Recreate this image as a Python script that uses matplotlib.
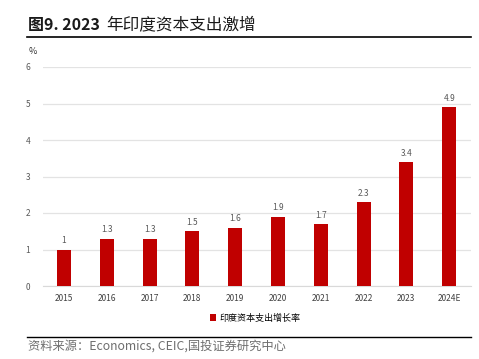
import numpy as np
import matplotlib
matplotlib.use("Agg")
import matplotlib.pyplot as plt
from matplotlib.lines import Line2D

plt.rcParams['font.family'] = ['Noto Sans CJK SC', 'DejaVu Sans']

years = ['2015', '2016', '2017', '2018', '2019', '2020', '2021', '2022', '2023', '2024E']
growth = [1.0, 1.3, 1.3, 1.5, 1.6, 1.9, 1.7, 2.3, 3.4, 4.9]
labels = ['1', '1.3', '1.3', '1.5', '1.6', '1.9', '1.7', '2.3', '3.4', '4.9']

W, H = 479, 359
fig = plt.figure(figsize=(W / 100, H / 100), dpi=100)

# title and rules
fig.text(28 / W, 1 - 25 / H, '图9. 2023', fontsize=11.5,
         fontweight='bold', va='center', ha='left', color='#1a1a1a')
fig.text(106 / W, 1 - 25 / H, '年印度资本支出激增', fontsize=12,
         fontweight='medium', va='center', ha='left', color='#1a1a1a')
fig.add_artist(Line2D([27 / W, 471 / W], [1 - 37 / H] * 2, color='black', lw=1.2))
fig.add_artist(Line2D([27 / W, 471 / W], [1 - 337 / H] * 2, color='black', lw=1.0))
fig.text(28 / W, 1 - 346 / H, '资料来源：Economics, CEIC,国投证券研究中心', fontsize=8.8,
         va='center', ha='left', color='#6e6e6e', style='italic', fontweight='light')

ax = fig.add_axes([42.6 / W, 1 - 286 / H, 428 / W, 219 / H])
x = np.arange(len(years))
bars = ax.bar(x, growth, width=0.33, color='#c00000', zorder=3,
              label='印度资本支出增长率')
for xi, v, t in zip(x, growth, labels):
    ax.text(xi, v + 0.12, t, ha='center', va='bottom', fontsize=6, color='#595959')

ax.set_xlim(-0.5, len(years) - 0.5)
ax.set_ylim(0, 6)
ax.set_yticks(range(7))
ax.set_xticks(x)
ax.set_xticklabels(years)
ax.grid(axis='y', color='#e3e3e3', lw=0.9, zorder=0)
for s in ['top', 'right', 'left']:
    ax.spines[s].set_visible(False)
ax.spines['bottom'].set_color('#d9d9d9')
ax.tick_params(axis='y', length=0, labelsize=6, colors='#595959', pad=9)
ax.tick_params(axis='x', length=0, labelsize=6, colors='#404040', pad=6)
ax.text(33 / W, 1 - 52 / H, '%', transform=fig.transFigure, fontsize=6.5,
        color='#333333', ha='center', va='center')

leg = fig.legend(handles=[bars], loc='center', bbox_to_anchor=(255 / W, 1 - 318 / H),
                 frameon=False, fontsize=6.5, handlelength=0.7, handleheight=0.7,
                 handletextpad=0.3)

fig.savefig('out.png', dpi=100)
